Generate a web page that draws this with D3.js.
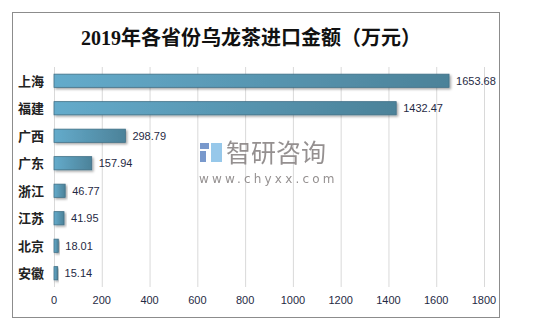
<!DOCTYPE html>
<html><head><meta charset="utf-8">
<script src="https://cdn.jsdelivr.net/npm/d3@7"></script>
<style>body{margin:0;background:#fff}svg{display:block}</style>
</head><body>
<script>
const categories = ["上海","福建","广西","广东","浙江","江苏","北京","安徽"];
const values = [1653.68,1432.47,298.79,157.94,46.77,41.95,18.01,15.14];
const ticks = [0,200,400,600,800,1000,1200,1400,1600,1800];
const title = "2019年各省份乌龙茶进口金额（万元）";

const W=536,H=327;
const svg=d3.select("body").append("svg").attr("width",W).attr("height",H);
const defs=svg.append("defs");
const g=defs.append("linearGradient").attr("id","bg").attr("x1","0").attr("x2","1").attr("y1","0").attr("y2","0");
g.append("stop").attr("offset","0%").attr("stop-color","#64abcb");
g.append("stop").attr("offset","100%").attr("stop-color","#4c8299");
const f=defs.append("filter").attr("id","sh").attr("x","-10%").attr("y","-30%").attr("width","130%").attr("height","180%");
f.append("feDropShadow").attr("dx",1.5).attr("dy",1.5).attr("stdDeviation",1).attr("flood-color","#000").attr("flood-opacity",0.35);

svg.append("rect").attr("x",12.5).attr("y",12.5).attr("width",487).attr("height",305).attr("fill","#fff").attr("stroke","#8c8c8c");

svg.append("text").attr("x",251).attr("y",45).attr("text-anchor","middle")
  .attr("font-family","'Liberation Serif','Noto Sans CJK SC',serif").attr("font-weight","bold").attr("font-size",20).attr("fill","#111").text(title);

const x=d3.scaleLinear().domain([0,1800]).range([54,484]);
const y=d3.scaleBand().domain(categories).range([67,287]).paddingInner(0.52).paddingOuter(0.26);

svg.append("g").selectAll("line").data(ticks).join("line")
  .attr("x1",d=>x(d)+0.5).attr("x2",d=>x(d)+0.5).attr("y1",67).attr("y2",287)
  .attr("stroke","#d9d9d9");

// watermark
const wm=svg.append("g").attr("opacity",0.9);
wm.append("rect").attr("x",200).attr("y",143).attr("width",9).attr("height",6).attr("fill","#6b8fc7");
wm.append("rect").attr("x",200).attr("y",151).attr("width",6).attr("height",11).attr("fill","#6b8fc7");
wm.append("rect").attr("x",211).attr("y",143).attr("width",11).attr("height",19).attr("fill","#8cc3e8");
wm.append("text").attr("x",226).attr("y",162).attr("font-family","'Noto Sans CJK SC'").attr("font-size",25).attr("fill","#8a8585").text("智研咨询");
wm.append("text").attr("x",199).attr("y",183).attr("font-family","'DejaVu Sans'").attr("font-size",12).attr("letter-spacing",3.2).attr("fill","#8a8585").text("www.chyxx.com");

svg.append("g").selectAll("rect").data(values).join("rect")
  .attr("x",x(0)).attr("y",(d,i)=>y(categories[i]))
  .attr("width",d=>x(d)-x(0)).attr("height",y.bandwidth())
  .attr("fill","url(#bg)").attr("stroke","#3f6f86").attr("stroke-width",0.8)
  .attr("filter","url(#sh)");

svg.append("g").selectAll("text").data(values).join("text")
  .attr("x",d=>x(d)+7).attr("y",(d,i)=>y(categories[i])+y.bandwidth()/2+4)
  .attr("font-family","'Liberation Sans','DejaVu Sans',sans-serif").attr("font-size",11).attr("fill","#1f2a44")
  .text(d=>d.toFixed(2));

svg.append("g").selectAll("text").data(categories).join("text")
  .attr("x",44).attr("y",d=>y(d)+y.bandwidth()/2+5).attr("text-anchor","end")
  .attr("font-family","'Noto Sans CJK SC'").attr("font-weight","bold").attr("font-size",13).attr("fill","#222")
  .text(d=>d);

svg.append("g").selectAll("text").data(ticks).join("text")
  .attr("x",d=>x(d)).attr("y",304).attr("text-anchor","middle")
  .attr("font-family","'Liberation Sans','DejaVu Sans',sans-serif").attr("font-size",11).attr("fill","#1f2a44")
  .text(d=>d);
</script>
</body></html>
